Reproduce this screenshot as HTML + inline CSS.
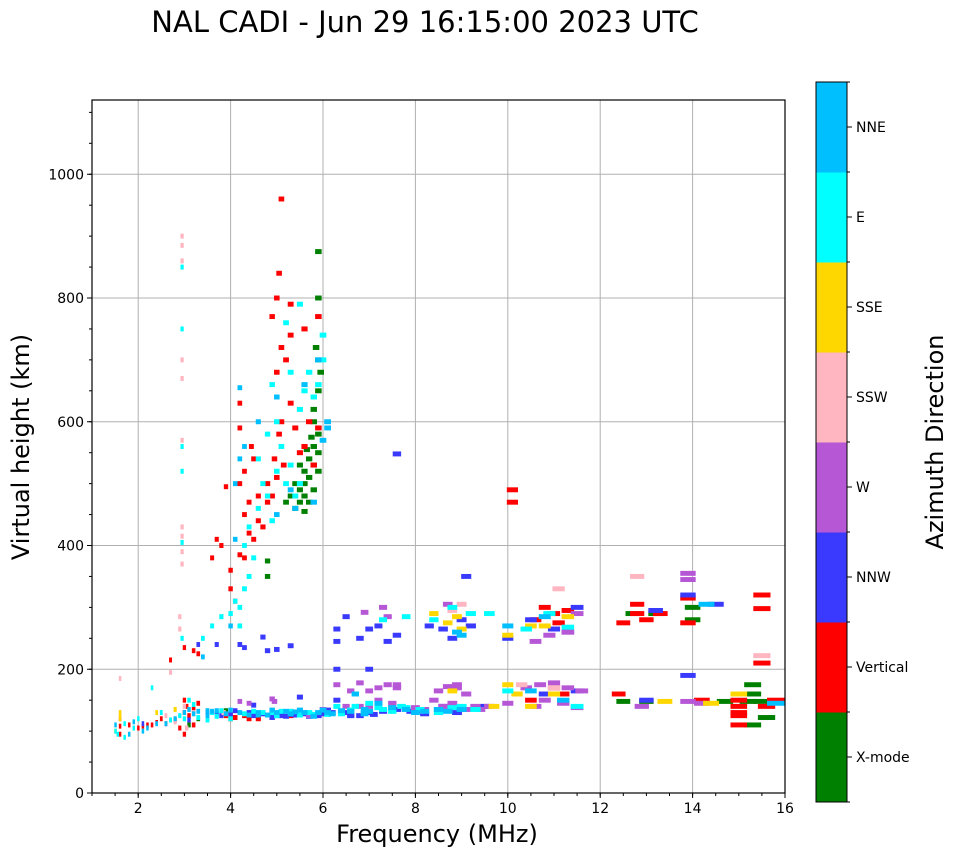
<!DOCTYPE html>
<html><head><meta charset="utf-8">
<style>
html,body{margin:0;padding:0;background:#fff;}
svg{display:block;font-family:"DejaVu Sans","Liberation Sans",sans-serif;}
</style></head>
<body>
<svg id="chart" width="958" height="857" viewBox="0 0 958 857">
<text x="425" y="32" text-anchor="middle" font-size="29" fill="#000">NAL CADI - Jun 29 16:15:00 2023 UTC</text>
<g id="grid"></g>
<g id="marks"></g>
<g id="axes"></g>
<g id="cbar"></g>
<text x="437" y="842" text-anchor="middle" font-size="24">Frequency (MHz)</text>
<text transform="translate(29,447) rotate(-90)" text-anchor="middle" font-size="24">Virtual height (km)</text>
<text transform="translate(943,442) rotate(-90)" text-anchor="middle" font-size="24">Azimuth Direction</text>
</svg>
<script>
const xTicks=[2,4,6,8,10,12,14,16];
const yTicks=[0,200,400,600,800,1000];
const directions=["X-mode","Vertical","NNW","W","SSW","SSE","E","NNE"];
const dirColors=["#008000","#ff0000","#3a3aff","#b657d6","#ffb6c1","#ffd700","#00ffff","#00bfff"];

const xmode=[[5.4,460],[5.5,470],[5.5,490],[5.6,480],[5.6,500],[5.7,470],[5.7,510],[5.8,490],[5.8,530],[5.9,520],[5.9,550],[5.6,520],[5.4,500],[5.5,530],[5.7,540],[5.8,560],[5.9,580],[5.8,620],[5.9,650],[5.95,680],[5.9,700],[5.85,720],[5.9,800],[5.9,875],[5.8,600],[5.3,480],[5.2,470],[5.6,455],[5.75,575],[5.65,555],[15.2,148],[15.5,148],[15.8,148],[15.3,160],[15.3,110],[15.3,175],[14.7,148],[15.6,122],[12.7,290],[13.2,290],[13.0,148],[12.5,148],[14,300],[14,280],[4.8,350],[4.8,375],[3.3,120],[3.1,110],[3.9,133]];
const vertical=[[3.0,235],[3.2,230],[3.3,225],[3.6,380],[3.7,410],[3.8,400],[3.9,495],[4.0,330],[4.0,360],[4.1,310],[4.2,385],[4.3,380],[4.3,450],[4.2,500],[4.3,520],[4.4,470],[4.4,420],[4.5,410],[4.6,440],[4.6,480],[4.7,430],[4.2,590],[4.2,630],[4.45,560],[4.5,540],[4.8,500],[4.8,470],[4.9,480],[4.95,540],[5.0,510],[5.05,580],[5.1,600],[5.15,530],[5.0,680],[5.1,720],[5.0,800],[5.05,840],[5.1,960],[5.3,630],[5.4,590],[5.3,740],[5.3,790],[5.7,600],[5.9,770],[5.6,560],[5.8,530],[5.5,550],[5.9,590],[4.9,770],[5.2,700],[5.6,750],[1.6,120],[1.8,110],[2.0,105],[2.2,110],[2.5,120],[3.0,95],[3.2,110],[4.0,128],[4.3,125],[4.6,125],[5.0,128],[2.7,215],[6.0,130],[10.1,490],[10.1,470],[10.8,300],[11.0,290],[11.3,295],[10.6,280],[11.2,160],[11.0,170],[12.5,275],[12.8,305],[13.0,280],[13.3,290],[13.9,315],[13.9,275],[14.2,150],[15.0,150],[15.0,140],[15.0,125],[15.0,110],[15.0,130],[15.5,298],[15.5,320],[15.5,210],[15.8,150],[12.4,160],[12.8,290],[11.1,275],[10.5,150],[15.6,140],[3.1,125],[3.0,130],[3.2,135],[2.3,110],[2.4,114],[2.1,108],[2.6,112],[1.6,95],[1.6,108],[3.9,125],[4.0,120],[4.1,122],[2.9,105],[3.05,140],[3.3,145],[4.4,120],[4.6,120],[5.3,125],[3.0,150],[2.8,118]];
const nnw=[[3.5,130],[3.7,128],[4.0,127],[4.4,130],[4.7,128],[5.0,125],[5.3,127],[5.6,128],[6.2,130],[6.5,130],[6.8,125],[7.0,130],[7.3,132],[7.6,135],[6.3,245],[6.3,265],[6.5,285],[6.8,250],[7.0,265],[7.2,270],[7.4,245],[7.6,255],[4.3,235],[5.3,238],[5.0,232],[4.7,252],[4.2,240],[3.3,240],[3.7,240],[6.3,200],[7.0,200],[8.3,270],[8.8,250],[9.0,280],[9.2,270],[8.6,265],[9.0,135],[9.5,140],[10.0,250],[10.5,280],[11.0,265],[11.3,260],[11.5,300],[10.8,160],[11.5,165],[13.0,150],[13.2,295],[13.9,190],[13.9,320],[14.5,305],[7.6,548],[9.1,350],[4.8,230],[8.6,140],[5.5,155],[4.5,142],[3.8,125],[4.1,133],[4.9,122],[5.2,124],[5.9,125],[6.6,125],[7.1,127],[7.9,132],[8.2,128],[8.9,130],[3.1,118],[2.1,112],[4.5,125],[5.4,126],[6.0,128],[5.1,125],[5.7,124],[6.1,134],[6.3,150]];
const west=[[4.4,145],[4.9,152],[5.7,125],[6.3,175],[6.6,165],[6.8,178],[7.0,165],[7.2,170],[7.4,175],[7.6,170],[7.2,150],[7.0,140],[6.5,140],[6.9,292],[7.3,300],[7.4,285],[8.5,165],[8.7,172],[8.9,175],[9.1,160],[8.4,150],[8.8,145],[9.6,140],[8.2,135],[10.4,170],[10.7,175],[11.0,178],[11.3,170],[11.6,165],[10.8,150],[11.2,145],[11.5,138],[10.6,140],[10.9,255],[11.3,260],[10.6,245],[11.5,290],[13.9,148],[14.2,145],[13.9,355],[13.9,345],[12.9,140],[8.7,305],[9.3,140],[10.0,145],[6.0,135],[6.8,140],[7.5,145],[8.1,132],[8.6,140],[9.1,135],[9.4,135],[7.8,136],[8.9,170],[8.8,168],[4.95,148],[4.2,148],[5.0,128],[7.6,175],[8.0,138]];
const ssw=[[2.95,900],[2.95,885],[2.95,860],[2.95,700],[2.95,670],[2.95,570],[2.95,430],[2.95,415],[2.95,390],[2.95,370],[2.9,285],[2.9,265],[1.6,185],[2.7,195],[8.8,295],[9.0,305],[10.3,175],[11.1,330],[12.8,350],[15.5,222],[11.0,170],[1.6,130],[2.6,125],[3.0,140],[3.2,130],[2.8,115],[3.05,105],[3.85,130]];
const sse=[[1.6,130],[1.5,100],[2.4,130],[8.4,290],[8.7,275],[8.9,285],[9.0,265],[10.0,255],[10.0,175],[10.2,160],[10.5,270],[10.8,270],[11.0,160],[11.3,285],[13.4,148],[14.4,145],[15.0,160],[9.7,140],[8.8,165],[10.5,140],[1.6,125],[1.6,120],[2.8,135]];
const east=[[2.95,850],[2.95,750],[2.95,560],[2.95,520],[2.95,405],[2.95,250],[3.4,250],[3.6,270],[3.8,285],[4.0,290],[4.2,300],[4.3,330],[4.4,350],[4.5,380],[4.3,400],[4.4,430],[4.6,460],[4.7,500],[4.8,480],[4.9,440],[5.0,520],[5.1,560],[5.2,500],[5.3,530],[5.4,480],[5.5,500],[5.5,620],[5.6,650],[5.7,680],[5.8,640],[5.9,660],[6.0,700],[6.0,740],[5.5,790],[5.0,600],[4.8,580],[4.9,660],[5.2,760],[5.3,680],[4.6,540],[1.7,90],[2.0,120],[2.3,170],[2.5,130],[3.0,120],[3.5,118],[4.0,120],[5.0,125],[5.8,127],[6.4,128],[6.7,140],[7.0,145],[7.3,135],[7.8,138],[8.5,130],[8.8,138],[9.3,135],[10.0,165],[10.4,265],[10.9,290],[11.3,268],[8.4,280],[8.8,300],[9.2,290],[7.3,280],[7.8,285],[9.6,290],[6.3,140],[11.5,140],[4.1,310],[4.2,270],[3.3,122],[3.7,124],[4.3,128],[4.7,130],[5.3,132],[5.5,126],[6.1,127],[6.9,130],[7.5,132],[8.1,135],[9.0,140],[1.9,105],[2.7,118],[2.9,125],[7.7,140],[1.5,100],[1.55,95],[1.7,112],[3.6,130],[3.8,133],[4.5,132],[4.9,130],[5.1,132],[5.7,130],[6.6,134],[7.2,138],[3.2,143],[3.1,150]];
const nne=[[1.5,110],[1.8,95],[2.2,105],[2.6,112],[2.8,120],[3.2,128],[3.6,132],[4.2,130],[4.6,130],[5.2,132],[5.6,130],[5.9,130],[6.6,132],[6.9,135],[7.5,138],[8.0,130],[8.5,135],[9.0,135],[3.5,125],[4.1,410],[4.2,655],[4.1,500],[4.2,540],[4.6,600],[5.0,640],[5.6,660],[5.9,700],[6.1,590],[6.1,600],[6.0,570],[5.8,470],[5.3,490],[3.4,220],[4.0,270],[4.3,560],[6.7,160],[7.2,145],[8.9,260],[9.0,255],[10.0,270],[10.8,285],[10.5,165],[11.2,150],[14.3,305],[15.8,145],[5.4,460],[5.0,450],[3.0,130],[3.3,132],[3.9,128],[4.4,126],[4.8,126],[5.0,130],[5.4,131],[5.8,124],[6.1,130],[6.4,133],[7.0,132],[7.8,135],[8.2,132],[8.7,132],[1.9,115],[2.1,100],[2.4,112],[4.9,134],[5.5,134],[6.9,128],[3.5,133],[3.7,133],[4.0,134],[4.6,126],[5.3,128],[6.2,128],[6.0,134],[3.1,135]];
const series=[xmode,vertical,nnw,west,ssw,sse,east,nne];

const NS="http://www.w3.org/2000/svg";
const L=92,R=785,T=100,B=793;
const xMin=1,xMax=16,yMin=0,yMax=1120;
function xs(f){return L+(f-xMin)/(xMax-xMin)*(R-L);}
function ys(h){return B-(h-yMin)/(yMax-yMin)*(B-T);}
function mk(tag,attrs,parent){const e=document.createElementNS(NS,tag);for(const k in attrs)e.setAttribute(k,attrs[k]);parent.appendChild(e);return e;}

const grid=document.getElementById('grid'),axes=document.getElementById('axes'),marks=document.getElementById('marks'),cbar=document.getElementById('cbar');
xTicks.forEach(t=>{const x=xs(t);
  if(t<16){const g=mk('line',{x1:x,x2:x,y1:T,y2:B,stroke:'#b0b0b0','stroke-width':1},grid);
  
  }
  mk('line',{x1:x,x2:x,y1:B,y2:B+5,stroke:'#000'},axes);
  const tx=mk('text',{x:x,y:B+20,'text-anchor':'middle','font-size':14},axes);tx.textContent=t;
  
  
});
for(let m=1;m<=16;m+=0.5){const x=xs(m);mk('line',{x1:x,x2:x,y1:B,y2:B+3,stroke:'#000'},axes);}
yTicks.forEach(t=>{const y=ys(t);
  if(t>0){const g=mk('line',{x1:L,x2:R,y1:y,y2:y,stroke:'#b0b0b0','stroke-width':1},grid);
  
  }
  mk('line',{x1:L-5,x2:L,y1:y,y2:y,stroke:'#000'},axes);
  const tx=mk('text',{x:L-8,y:y+5,'text-anchor':'end','font-size':14},axes);tx.textContent=t;
  
  
});
for(let m=0;m<=1100;m+=50){const y=ys(m);mk('line',{x1:L-3,x2:L,y1:y,y2:y,stroke:'#000'},axes);}
mk('rect',{x:L,y:T,width:R-L,height:B-T,fill:'none',stroke:'#000','stroke-width':1.2},axes);

series.forEach((pts,d)=>{pts.forEach(p=>{
  const f=p[0],h=p[1],w=f*0.024;
  const x1=xs(f-w/2),x2=xs(f+w/2),y1=ys(h+4),y2=ys(h-4);
  const r=mk('rect',{x:x1,y:y1,width:Math.max(2.5,x2-x1),height:y2-y1,fill:dirColors[d]},marks);
  
  
});});

const cx=816,cw=31,cT=82,cB=802,seg=(cB-cT)/directions.length;
directions.forEach((name,i)=>{
  const y=cB-(i+1)*seg;
  const r=mk('rect',{x:cx,y:y,width:cw,height:seg+0.5,fill:dirColors[i]},cbar);
  
  
  mk('line',{x1:cx+cw,x2:cx+cw+5,y1:y+seg/2,y2:y+seg/2,stroke:'#000'},cbar);
  const tx=mk('text',{x:cx+cw+9,y:y+seg/2+5,'font-size':14},cbar);tx.textContent=name;
  
  
});
for(let i=0;i<=directions.length;i++){const y=cB-i*seg;mk('line',{x1:cx+cw,x2:cx+cw+3,y1:y,y2:y,stroke:'#000'},cbar);}
mk('rect',{x:cx,y:cT,width:cw,height:cB-cT,fill:'none',stroke:'#000','stroke-width':1},cbar);
</script>
</body></html>
